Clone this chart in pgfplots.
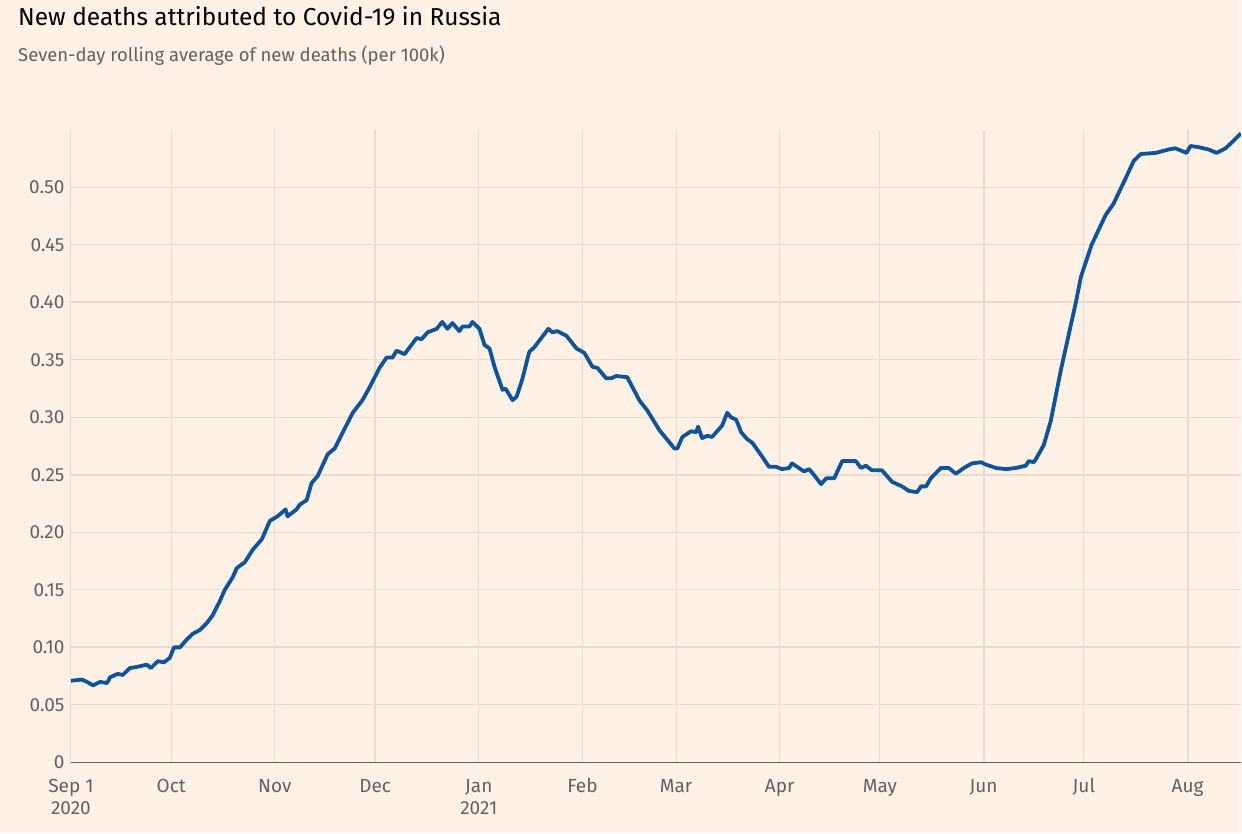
\documentclass[border=0pt]{standalone}
\usepackage{pgfplots}
\pgfplotsset{compat=1.18}
\usepackage{fontspec}
\setmainfont{Fira Sans}
\definecolor{bg}{HTML}{FFF1E5}
\definecolor{gridc}{HTML}{E8DCD1}
\definecolor{axc}{HTML}{66605C}
\definecolor{ttl}{HTML}{33302E}
\definecolor{ftblue}{HTML}{0F5499}
\begin{document}
\begin{tikzpicture}
\fill[bg] (0pt,0pt) rectangle (1242pt,834pt);
\node[anchor=base west,font=\fontsize{24.5}{28}\selectfont,text=black,inner sep=0] at (18pt,808pt) {New deaths attributed to Covid-19 in Russia};
\node[anchor=base west,font=\fontsize{18.5}{22}\selectfont,text=axc,inner sep=0] at (18pt,772pt) {Seven-day rolling average of new deaths (per 100k)};
\begin{axis}[
  at={(71pt,71pt)}, anchor=south west,
  scale only axis, width=1171pt, height=633pt,
  xmin=0, xmax=350, ymin=0, ymax=0.55,
  axis line style={draw=none},
  ymajorgrids, xmajorgrids,
  grid style={gridc, line width=1pt},
  major tick length=0pt,
  xtick pos=bottom, ytick pos=left,
  xtick={0,30,61,91,122,153,181,212,242,273,303,334},
  xticklabels={{\strut Sep 1\\2020},{\strut Oct},{\strut Nov},{\strut Dec},{\strut Jan\\2021},{\strut Feb},{\strut Mar},{\strut Apr},{\strut May},{\strut Jun},{\strut Jul},{\strut Aug}},
  xticklabel style={align=center, anchor=north, font=\fontsize{19}{21.5}\selectfont, text=axc, yshift=-12pt},
  ytick={0,0.05,0.10,0.15,0.20,0.25,0.30,0.35,0.40,0.45,0.50},
  yticklabels={0,0.05,0.10,0.15,0.20,0.25,0.30,0.35,0.40,0.45,0.50},
  yticklabel style={font=\fontsize{19}{21}\selectfont, text=axc, xshift=-3pt},
  extra x ticks={91,273,334},
  extra x tick labels={},
  extra y ticks={0.10,0.25,0.40},
  extra y tick labels={},
  extra tick style={grid style={gridc, line width=2pt}},
  clip=true,
]
\addplot[ftblue, line width=3.8pt, line join=round] coordinates {
(0,0.071)(3.3,0.072)(4.8,0.070)(6.6,0.067)(8.7,0.070)(10.8,0.069)(11.7,0.074)
(14.0,0.077)(15.5,0.076)(17.6,0.082)(19.7,0.083)(22.7,0.085)(23.9,0.082)
(26.0,0.088)(27.8,0.087)(29.6,0.091)(30.8,0.100)(32.6,0.100)(34.7,0.107)
(36.5,0.112)(38.5,0.115)(40.6,0.121)(42.4,0.128)(44.5,0.140)(46.0,0.150)
(48.4,0.161)(49.6,0.169)(52.0,0.174)(54.4,0.185)(57.1,0.194)(59.5,0.210)
(61.8,0.214)(64.2,0.220)(64.8,0.214)(67.5,0.220)(68.4,0.224)(70.5,0.228)
(72.0,0.243)(73.8,0.249)(76.8,0.268)(78.9,0.273)(81.3,0.287)(84.3,0.304)
(87.2,0.315)(89.3,0.326)(92.3,0.343)(94.4,0.352)(96.2,0.352)(97.4,0.358)
(99.8,0.355)(103.4,0.369)(104.9,0.368)(106.7,0.374)(109.4,0.377)(111.1,0.383)
(112.6,0.377)(114.1,0.382)(116.2,0.375)(117.1,0.379)(119.2,0.379)(120.1,0.383)
(122.2,0.377)(123.7,0.363)(125.2,0.360)(126.7,0.344)(129.1,0.324)(130.0,0.325)
(132.1,0.315)(133.3,0.318)(135.0,0.333)(137.1,0.357)(138.6,0.361)(142.8,0.377)
(144.0,0.374)(145.5,0.375)(148.2,0.371)(151.2,0.360)(153.6,0.356)(156.0,0.344)
(157.5,0.343)(160.1,0.334)(161.6,0.334)(163.1,0.336)(166.4,0.335)(170.0,0.315)
(172.4,0.306)(176.0,0.289)(180.5,0.273)(181.4,0.273)(182.9,0.283)(185.5,0.288)
(187.0,0.287)(187.6,0.292)(188.8,0.282)(190.3,0.284)(191.8,0.283)(194.8,0.293)
(196.3,0.304)(197.5,0.300)(199.0,0.298)(200.5,0.287)(202.3,0.281)(203.8,0.278)
(206.5,0.267)(208.8,0.257)(210.9,0.257)(212.7,0.255)(214.8,0.256)(215.7,0.260)
(219.3,0.253)(220.8,0.255)(221.7,0.252)(224.4,0.242)(225.9,0.247)(228.3,0.247)
(230.7,0.262)(234.8,0.262)(236.3,0.256)(237.8,0.258)(239.6,0.254)(242.6,0.254)
(245.6,0.244)(248.6,0.240)(250.7,0.236)(253.1,0.235)(254.3,0.240)(255.8,0.240)
(257.2,0.247)(260.2,0.256)(262.6,0.256)(264.7,0.251)(267.1,0.256)(269.5,0.260)
(272.2,0.261)(273.7,0.259)(276.7,0.256)(279.7,0.255)(282.6,0.256)(285.6,0.258)
(286.5,0.262)(288.0,0.261)(288.9,0.265)(291.0,0.276)(293.1,0.297)(296.1,0.341)
(300.6,0.400)(302.1,0.422)(305.3,0.450)(307.4,0.463)(309.5,0.476)(311.9,0.486)
(315.5,0.508)(317.9,0.523)(320.0,0.529)(324.5,0.530)(328.4,0.533)(330.4,0.534)
(333.7,0.530)(334.9,0.536)(337.3,0.535)(340.3,0.533)(342.7,0.530)(345.4,0.534)
(347.2,0.539)(350.0,0.547)
};
\end{axis}
\draw[axc, line width=1.5pt] (71pt,71pt) -- (1242pt,71pt);
\end{tikzpicture}
\end{document}
